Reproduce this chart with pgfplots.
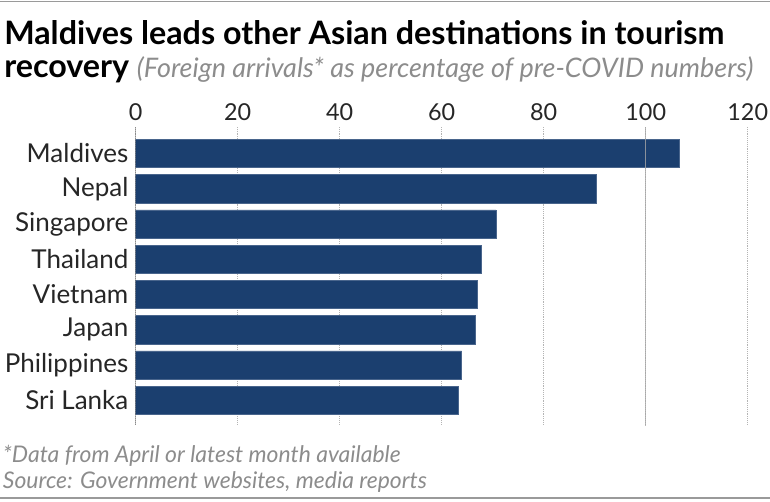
\documentclass[border=0pt]{standalone}
\usepackage{fontspec}
\setmainfont{Lato}
\usepackage{pgfplots}
\pgfplotsset{compat=1.18}

\definecolor{barblue}{HTML}{1B3F6F}
\definecolor{txtgrey}{HTML}{8C8C8C}
\definecolor{gridgrey}{HTML}{B4B4B4}
\definecolor{framegrey}{HTML}{9A9A9A}

\pgfplotstableread{
idx value
0 106.6
1 90.3
2 70.6
3 67.8
4 67.0
5 66.6
6 63.9
7 63.3
}\arrivals

\begin{document}
\begin{tikzpicture}
  % 1px = 0.75pt, top-left of the picture at (0,0)
  \path[use as bounding box] (0,0) rectangle (577.5pt,-375.75pt);
  \draw[framegrey, line width=1.2pt] (0,-1pt) -- (577.5pt,-1pt);
  \draw[framegrey, line width=1.2pt] (0,-373.5pt) -- (577.5pt,-373.5pt);

  \node[anchor=base west, inner sep=0pt, font=\fontsize{24.2}{24}\selectfont\bfseries]
    at (3pt,-33.5pt) {Maldives leads other Asian destinations in tourism};
  \node[anchor=base west, inner sep=0pt]
    at (3pt,-58pt) {\fontsize{24.2}{24}\selectfont\bfseries recovery\
      {\fontsize{20.2}{20}\selectfont\mdseries\itshape\color{txtgrey}(Foreign arrivals* as percentage of pre-COVID numbers)}};

  \begin{axis}[
      at={(101.8pt,-95.25pt)}, anchor=north west,
      scale only axis, width=459pt, height=223.5pt,
      xbar, bar width=0.8,
      y dir=reverse,
      xmin=0, xmax=120,
      ymin=-0.752, ymax=7.704,
      axis line style={draw=none},
      major tick length=0pt,
      xtick={0,20,...,120},
      xticklabel pos=upper,
      xmajorgrids,
      grid style={gridgrey, densely dotted, line width=0.6pt},
      ytick={0,...,7},
      yticklabels={Maldives,Nepal,Singapore,Thailand,Vietnam,Japan,Philippines,Sri Lanka},
      /pgf/number format/assume math mode=true,
      tick label style={text=black!85},
      yticklabel style={font=\fontsize{19.5}{19.5}\selectfont, xshift=-2pt},
      xticklabel style={font=\fontsize{17.5}{17.5}\selectfont, yshift=1.5pt},
    ]
    \addplot[fill=barblue, draw=barblue!80!white, line width=0.4pt] table[x=value, y=idx] {\arrivals};
    \draw[black!75, line width=0.8pt] (axis cs:0,-0.752) -- (axis cs:0,7.704);
    \draw[black!35, line width=0.9pt, opacity=0.8] (axis cs:100,-0.752) -- (axis cs:100,7.85);
  \end{axis}

  \node[anchor=base west, inner sep=0pt, font=\fontsize{17.2}{17}\selectfont\itshape, text=txtgrey]
    at (2pt,-347pt) {*Data from April or latest month available};
  \node[anchor=base west, inner sep=0pt, font=\fontsize{17.2}{17}\selectfont\itshape, text=txtgrey]
    at (2pt,-366pt) {Source: Government websites, media reports};
\end{tikzpicture}
\end{document}
